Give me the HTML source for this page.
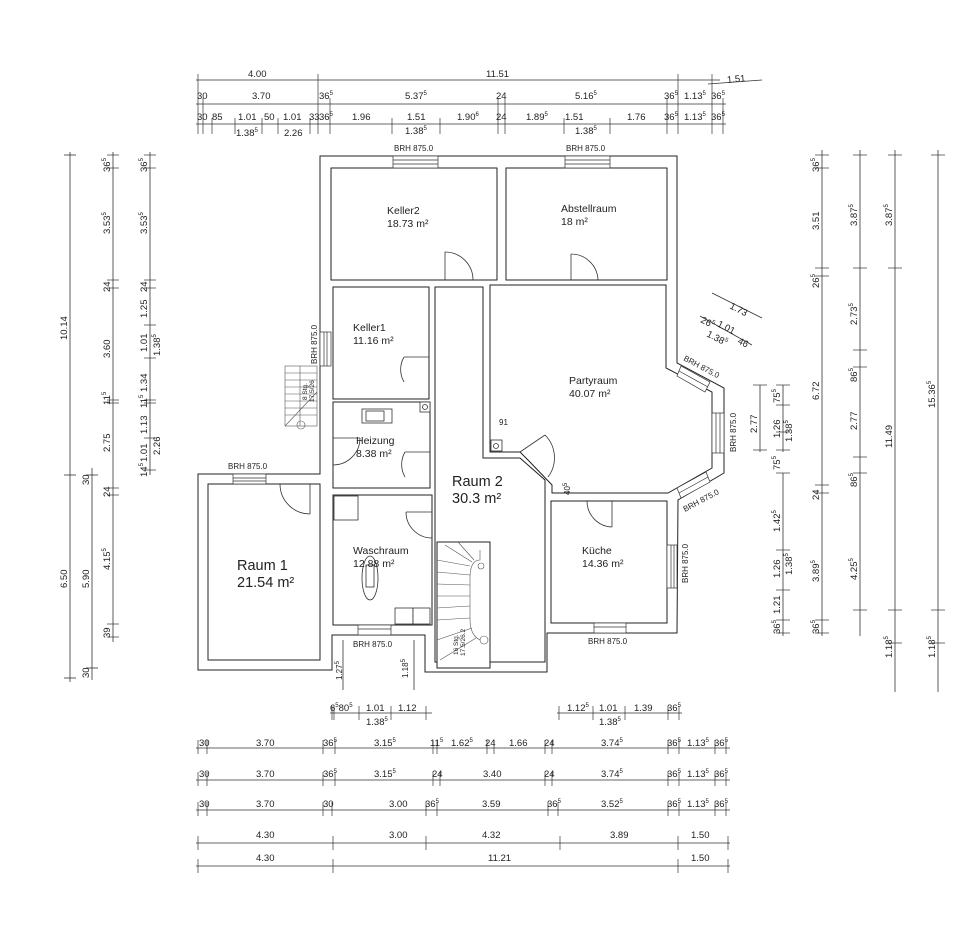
<!DOCTYPE html>
<html><head><meta charset="utf-8"><style>
html,body{margin:0;padding:0;background:#fff;}
svg{display:block;}
text{font-family:"Liberation Sans",sans-serif;fill:#222;}
.d{font-size:9.5px;}
.s{font-size:6px;}
</style></head><body>
<svg width="960" height="925" viewBox="0 0 960 925" xmlns="http://www.w3.org/2000/svg">
<rect width="960" height="925" fill="#fff"/>
<g stroke="#333" stroke-width="0.8" fill="none">
<!-- top dim lines -->
<line x1="196" y1="80" x2="720" y2="80"/>
<line x1="708" y1="84" x2="762" y2="80"/>
<line x1="196" y1="104" x2="726" y2="104"/>
<line x1="196" y1="124" x2="726" y2="124"/>
<g stroke-width="0.7">
<line x1="198" y1="74" x2="198" y2="134"/><line x1="203" y1="98" x2="203" y2="134"/>
<line x1="318" y1="74" x2="318" y2="134"/><line x1="330" y1="98" x2="330" y2="134"/>
<line x1="498" y1="98" x2="498" y2="134"/><line x1="505" y1="98" x2="505" y2="134"/>
<line x1="667" y1="98" x2="667" y2="134"/><line x1="678" y1="74" x2="678" y2="134"/>
<line x1="712" y1="74" x2="712" y2="134"/><line x1="723" y1="98" x2="723" y2="134"/>
<line x1="212" y1="118" x2="212" y2="134"/><line x1="235" y1="118" x2="235" y2="134"/>
<line x1="262" y1="118" x2="262" y2="134"/><line x1="278" y1="118" x2="278" y2="134"/>
<line x1="310" y1="118" x2="310" y2="134"/><line x1="392" y1="118" x2="392" y2="134"/>
<line x1="440" y1="118" x2="440" y2="134"/><line x1="564" y1="118" x2="564" y2="134"/>
<line x1="610" y1="118" x2="610" y2="134"/>
</g>
<!-- left dims -->
<line x1="70" y1="152" x2="70" y2="682"/>
<line x1="64" y1="475" x2="76" y2="475"/><line x1="64" y1="155" x2="76" y2="155"/><line x1="64" y1="678" x2="76" y2="678"/>
<line x1="92" y1="468" x2="92" y2="680"/>
<line x1="86" y1="475" x2="98" y2="475"/><line x1="86" y1="668" x2="98" y2="668"/>
<line x1="113" y1="152" x2="113" y2="642"/>
<g stroke-width="0.7">
<line x1="107" y1="155" x2="119" y2="155"/><line x1="107" y1="168" x2="119" y2="168"/>
<line x1="107" y1="280" x2="119" y2="280"/><line x1="107" y1="288" x2="119" y2="288"/>
<line x1="107" y1="400" x2="119" y2="400"/><line x1="107" y1="403" x2="119" y2="403"/>
<line x1="107" y1="488" x2="119" y2="488"/><line x1="107" y1="495" x2="119" y2="495"/>
<line x1="107" y1="624" x2="119" y2="624"/><line x1="107" y1="637" x2="119" y2="637"/>
</g>
<line x1="150" y1="152" x2="150" y2="475"/>
<g stroke-width="0.7">
<line x1="144" y1="155" x2="156" y2="155"/><line x1="144" y1="168" x2="156" y2="168"/>
<line x1="144" y1="280" x2="156" y2="280"/><line x1="144" y1="288" x2="156" y2="288"/>
<line x1="144" y1="325" x2="156" y2="325"/><line x1="144" y1="358" x2="156" y2="358"/>
<line x1="144" y1="400" x2="156" y2="400"/><line x1="144" y1="403" x2="156" y2="403"/>
<line x1="144" y1="438" x2="156" y2="438"/><line x1="144" y1="470" x2="156" y2="470"/>
</g>
<!-- right dims -->
<line x1="822" y1="150" x2="822" y2="636"/>
<line x1="860" y1="150" x2="860" y2="636"/>
<line x1="895" y1="150" x2="895" y2="692"/>
<line x1="938" y1="150" x2="938" y2="692"/>
<line x1="760" y1="385" x2="760" y2="452"/>
<line x1="783" y1="385" x2="783" y2="452"/>
<line x1="783" y1="473" x2="783" y2="636"/>
<g stroke-width="0.7">
<line x1="815" y1="155" x2="829" y2="155"/><line x1="815" y1="168" x2="829" y2="168"/><line x1="815" y1="268" x2="829" y2="268"/><line x1="815" y1="276" x2="829" y2="276"/><line x1="815" y1="485" x2="829" y2="485"/><line x1="815" y1="493" x2="829" y2="493"/><line x1="815" y1="620" x2="829" y2="620"/><line x1="815" y1="633" x2="829" y2="633"/>
<line x1="853" y1="155" x2="867" y2="155"/><line x1="853" y1="268" x2="867" y2="268"/><line x1="853" y1="350" x2="867" y2="350"/><line x1="853" y1="367" x2="867" y2="367"/><line x1="853" y1="457" x2="867" y2="457"/><line x1="853" y1="473" x2="867" y2="473"/><line x1="853" y1="610" x2="867" y2="610"/>
<line x1="888" y1="155" x2="902" y2="155"/><line x1="888" y1="268" x2="902" y2="268"/><line x1="888" y1="610" x2="902" y2="610"/><line x1="888" y1="643" x2="902" y2="643"/>
<line x1="931" y1="155" x2="945" y2="155"/><line x1="931" y1="610" x2="945" y2="610"/><line x1="931" y1="643" x2="945" y2="643"/>
<line x1="753" y1="385" x2="767" y2="385"/><line x1="753" y1="450" x2="767" y2="450"/>
<line x1="776" y1="385" x2="790" y2="385"/><line x1="776" y1="405" x2="790" y2="405"/><line x1="776" y1="432" x2="790" y2="432"/><line x1="776" y1="450" x2="790" y2="450"/>
<line x1="776" y1="473" x2="790" y2="473"/><line x1="776" y1="550" x2="790" y2="550"/><line x1="776" y1="590" x2="790" y2="590"/><line x1="776" y1="620" x2="790" y2="620"/><line x1="776" y1="633" x2="790" y2="633"/>
</g>
<!-- diagonal dims -->
<line x1="712" y1="293" x2="762" y2="318"/>
<line x1="700" y1="316" x2="752" y2="345"/>
<!-- bottom dims -->
<line x1="330" y1="713" x2="432" y2="713"/>
<line x1="557" y1="713" x2="682" y2="713"/>
<line x1="196" y1="748" x2="730" y2="748"/>
<line x1="196" y1="780" x2="730" y2="780"/>
<line x1="196" y1="810" x2="730" y2="810"/>
<line x1="196" y1="843" x2="730" y2="843"/>
<line x1="196" y1="866" x2="730" y2="866"/>
<g stroke-width="0.7">
<line x1="198" y1="740" x2="198" y2="754"/><line x1="207" y1="740" x2="207" y2="754"/><line x1="323" y1="740" x2="323" y2="754"/><line x1="335" y1="740" x2="335" y2="754"/><line x1="433" y1="740" x2="433" y2="754"/><line x1="437" y1="740" x2="437" y2="754"/><line x1="487" y1="740" x2="487" y2="754"/><line x1="494" y1="740" x2="494" y2="754"/><line x1="545" y1="740" x2="545" y2="754"/><line x1="552" y1="740" x2="552" y2="754"/><line x1="668" y1="740" x2="668" y2="754"/><line x1="679" y1="740" x2="679" y2="754"/><line x1="715" y1="740" x2="715" y2="754"/><line x1="726" y1="740" x2="726" y2="754"/>
<line x1="198" y1="772" x2="198" y2="786"/><line x1="207" y1="772" x2="207" y2="786"/><line x1="323" y1="772" x2="323" y2="786"/><line x1="335" y1="772" x2="335" y2="786"/><line x1="433" y1="772" x2="433" y2="786"/><line x1="440" y1="772" x2="440" y2="786"/><line x1="545" y1="772" x2="545" y2="786"/><line x1="552" y1="772" x2="552" y2="786"/><line x1="668" y1="772" x2="668" y2="786"/><line x1="679" y1="772" x2="679" y2="786"/><line x1="715" y1="772" x2="715" y2="786"/><line x1="726" y1="772" x2="726" y2="786"/>
<line x1="198" y1="802" x2="198" y2="816"/><line x1="207" y1="802" x2="207" y2="816"/><line x1="323" y1="802" x2="323" y2="816"/><line x1="332" y1="802" x2="332" y2="816"/><line x1="426" y1="802" x2="426" y2="816"/><line x1="437" y1="802" x2="437" y2="816"/><line x1="548" y1="802" x2="548" y2="816"/><line x1="558" y1="802" x2="558" y2="816"/><line x1="668" y1="802" x2="668" y2="816"/><line x1="679" y1="802" x2="679" y2="816"/><line x1="715" y1="802" x2="715" y2="816"/><line x1="726" y1="802" x2="726" y2="816"/>
<line x1="198" y1="836" x2="198" y2="850"/><line x1="333" y1="836" x2="333" y2="850"/><line x1="426" y1="836" x2="426" y2="850"/><line x1="560" y1="836" x2="560" y2="850"/><line x1="678" y1="836" x2="678" y2="850"/><line x1="728" y1="836" x2="728" y2="850"/>
<line x1="198" y1="859" x2="198" y2="873"/><line x1="333" y1="859" x2="333" y2="873"/><line x1="678" y1="859" x2="678" y2="873"/><line x1="728" y1="859" x2="728" y2="873"/>
<line x1="332" y1="706" x2="332" y2="720"/><line x1="334" y1="706" x2="334" y2="720"/><line x1="359" y1="706" x2="359" y2="720"/><line x1="391" y1="706" x2="391" y2="720"/><line x1="426" y1="706" x2="426" y2="720"/>
<line x1="559" y1="706" x2="559" y2="720"/><line x1="593" y1="706" x2="593" y2="720"/><line x1="625" y1="706" x2="625" y2="720"/><line x1="668" y1="706" x2="668" y2="720"/><line x1="679" y1="706" x2="679" y2="720"/>
</g>
<line x1="343" y1="640" x2="343" y2="690"/><line x1="414" y1="640" x2="414" y2="690"/>
</g>

<!-- PLAN -->
<g stroke="#222" stroke-width="1" fill="#fff">
<polygon points="320,156 677,156 677,363 724,388 724,473 678,500 677,633 547,633 547,672 425,672 425,635 332,635 332,670 198,670 198,474 320,474"/>
<rect x="331" y="168" width="166" height="112"/>
<rect x="506" y="168" width="161" height="112"/>
<rect x="333" y="287" width="96" height="112"/>
<rect x="333" y="402" width="97" height="86"/>
<rect x="333" y="495" width="99" height="130"/>
<rect x="208" y="484" width="112" height="176"/>
<polygon points="435,287 483,287 483,458 520,458 545,480 545,662 435,662"/>
<polygon points="490,285 666,285 666,368 712,392 712,468 668,493 552,493 552,485 528,460 520,452 490,452"/>
<rect x="551" y="501" width="116" height="122"/>
<rect x="437" y="542" width="53" height="126"/>
</g>
<!-- windows -->
<g stroke="#333" stroke-width="0.7" fill="#fff">
<rect x="393" y="156" width="45" height="12"/><line x1="393" y1="160" x2="438" y2="160"/><line x1="393" y1="164" x2="438" y2="164"/>
<rect x="565" y="156" width="45" height="12"/><line x1="565" y1="160" x2="610" y2="160"/><line x1="565" y1="164" x2="610" y2="164"/>
<rect x="320" y="332" width="11" height="34"/><line x1="324" y1="332" x2="324" y2="366"/><line x1="327" y1="332" x2="327" y2="366"/>
<rect x="233" y="474" width="33" height="10"/><line x1="233" y1="478" x2="266" y2="478"/><line x1="233" y1="481" x2="266" y2="481"/>
<rect x="358" y="625" width="33" height="10"/><line x1="358" y1="629" x2="391" y2="629"/>
<rect x="594" y="623" width="32" height="10"/><line x1="594" y1="627" x2="626" y2="627"/>
<rect x="667" y="545" width="10" height="43"/><line x1="671" y1="545" x2="671" y2="588"/><line x1="674" y1="545" x2="674" y2="588"/>
<rect x="712" y="413" width="12" height="40"/><line x1="716" y1="413" x2="716" y2="453"/><line x1="720" y1="413" x2="720" y2="453"/>
<polygon points="681,366 710,382 705,392 677,376"/><line x1="679" y1="371" x2="708" y2="387"/>
<polygon points="677,488 706,472 710,482 681,498"/><line x1="679" y1="493" x2="708" y2="477"/>
</g>
<!-- doors -->
<g stroke="#333" stroke-width="0.8" fill="none">
<line x1="445" y1="280" x2="445" y2="252"/><path d="M445,252 A28,28 0 0 1 473,280"/>
<line x1="571" y1="280" x2="571" y2="254"/><path d="M571,254 A27,27 0 0 1 598,280"/>
<line x1="429" y1="357" x2="404" y2="357"/><path d="M404,357 A25,25 0 0 0 404,382"/>
<line x1="430" y1="452" x2="405" y2="452"/><path d="M405,452 A25,25 0 0 0 405,477"/>
<line x1="333" y1="438" x2="360" y2="438"/><path d="M360,438 A27,27 0 0 1 333,465"/>
<line x1="432" y1="512" x2="406" y2="512"/><path d="M406,512 A26,26 0 0 0 432,538"/>
<line x1="310" y1="484" x2="310" y2="514"/><path d="M280,484 A30,30 0 0 0 310,514"/>
<line x1="612" y1="501" x2="612" y2="527"/><path d="M587,501 A26,26 0 0 0 612,527"/>
<line x1="520" y1="452" x2="545" y2="435"/><path d="M545,435 A32,32 0 0 1 548,477"/>
</g>
<!-- fixtures -->
<g stroke="#333" stroke-width="0.8" fill="#fff">
<rect x="362" y="409" width="30" height="14"/><rect x="366" y="411" width="18" height="10"/>
<rect x="420" y="402" width="10" height="10"/><circle cx="425" cy="407" r="2.5"/>
<rect x="491" y="440" width="11" height="11"/><circle cx="496" cy="446" r="2.5"/>
<rect x="334" y="496" width="24" height="24"/>
<rect x="395" y="608" width="18" height="16"/><rect x="413" y="608" width="17" height="16"/>
<ellipse cx="370" cy="578" rx="8" ry="22"/><rect x="366" y="565" width="8" height="22"/>
</g>
<!-- outside stair -->
<g stroke="#555" stroke-width="0.6" fill="none">
<rect x="285" y="366" width="32" height="60"/>
<line x1="285" y1="373" x2="317" y2="373"/><line x1="285" y1="380" x2="317" y2="380"/><line x1="285" y1="387" x2="317" y2="387"/><line x1="285" y1="394" x2="317" y2="394"/><line x1="285" y1="401" x2="317" y2="401"/><line x1="285" y1="408" x2="317" y2="408"/><line x1="285" y1="415" x2="317" y2="415"/>
<line x1="300" y1="366" x2="300" y2="426"/><circle cx="301" cy="425" r="4"/><line x1="285" y1="426" x2="317" y2="392"/>
</g>
<!-- spiral stair -->
<g stroke="#555" stroke-width="0.6" fill="none">
<path d="M480,550 L480,560 Q470,560 470,578 L470,620 Q470,635 480,640"/>
<line x1="437" y1="560" x2="470" y2="566"/><line x1="437" y1="572" x2="470" y2="575"/><line x1="437" y1="584" x2="470" y2="585"/><line x1="437" y1="596" x2="470" y2="596"/><line x1="437" y1="608" x2="470" y2="606"/><line x1="437" y1="620" x2="470" y2="618"/><line x1="445" y1="545" x2="472" y2="562"/><line x1="458" y1="542" x2="474" y2="560"/><line x1="437" y1="640" x2="472" y2="628"/><line x1="440" y1="660" x2="476" y2="638"/>
<circle cx="484" cy="640" r="4"/><circle cx="481" cy="566" r="3"/>
</g>

<!-- labels -->
<g font-size="10.5">
<text x="387" y="214">Keller2</text><text x="387" y="227">18.73 m²</text>
<text x="561" y="212">Abstellraum</text><text x="561" y="225">18 m²</text>
<text x="353" y="331">Keller1</text><text x="353" y="344">11.16 m²</text>
<text x="356" y="444">Heizung</text><text x="356" y="457">8.38 m²</text>
<text x="353" y="554">Waschraum</text><text x="353" y="567">12.88 m²</text>
<text x="569" y="384">Partyraum</text><text x="569" y="397">40.07 m²</text>
<text x="582" y="554">Küche</text><text x="582" y="567">14.36 m²</text>
</g>
<g font-size="14.5">
<text x="237" y="570">Raum 1</text><text x="237" y="587">21.54 m²</text>
<text x="452" y="486">Raum 2</text><text x="452" y="503">30.3 m²</text>
</g>
<g font-size="8">
<text x="394" y="151">BRH 875.0</text>
<text x="566" y="151">BRH 875.0</text>
<text x="228" y="469">BRH 875.0</text>
<text x="353" y="647">BRH 875.0</text>
<text x="588" y="644">BRH 875.0</text>
<text transform="translate(317,364) rotate(-90)">BRH 875.0</text>
<text transform="translate(688,583) rotate(-90)">BRH 875.0</text>
<text transform="translate(736,452) rotate(-90)">BRH 875.0</text>
<text transform="translate(683,360) rotate(28)">BRH 875.0</text>
<text transform="translate(685,512) rotate(-28)">BRH 875.0</text>
<text x="499" y="425">91</text>
<text transform="translate(570,495) rotate(-90)">40<tspan class="s" dy="-3">5</tspan></text>
<text transform="translate(307,400) rotate(-90)" font-size="6.5">8 Stg.</text>
<text transform="translate(314,402) rotate(-90)" font-size="6.5">17.5/26</text>
<text transform="translate(458,655) rotate(-90)" font-size="6.5">16 Stg.</text>
<text transform="translate(465,656) rotate(-90)" font-size="6.5">17.5/26.2</text>
<text transform="translate(342,680) rotate(-90)">1.27<tspan class="s" dy="-3">5</tspan></text>
<text transform="translate(408,678) rotate(-90)">1.18<tspan class="s" dy="-3">5</tspan></text>
</g>

<!-- top dim text -->
<g class="d">
<text x="248" y="77">4.00</text><text x="486" y="77">11.51</text><text x="727" y="82" transform="rotate(-5 737 80)">1.51</text>
<text x="197" y="99">30</text><text x="252" y="99">3.70</text><text x="319" y="99">36<tspan class="s" dy="-4">5</tspan></text><text x="405" y="99">5.37<tspan class="s" dy="-4">5</tspan></text><text x="496" y="99">24</text><text x="575" y="99">5.16<tspan class="s" dy="-4">5</tspan></text><text x="664" y="99">36<tspan class="s" dy="-4">5</tspan></text><text x="684" y="99">1.13<tspan class="s" dy="-4">5</tspan></text><text x="711" y="99">36<tspan class="s" dy="-4">5</tspan></text>
<text x="197" y="120">30</text><text x="212" y="120">85</text><text x="238" y="120">1.01</text><text x="264" y="120">50</text><text x="283" y="120">1.01</text><text x="309" y="120">33</text><text x="319" y="120">36<tspan class="s" dy="-4">5</tspan></text><text x="352" y="120">1.96</text><text x="407" y="120">1.51</text><text x="457" y="120">1.90<tspan class="s" dy="-4">6</tspan></text><text x="496" y="120">24</text><text x="526" y="120">1.89<tspan class="s" dy="-4">5</tspan></text><text x="565" y="120">1.51</text><text x="627" y="120">1.76</text><text x="664" y="120">36<tspan class="s" dy="-4">5</tspan></text><text x="684" y="120">1.13<tspan class="s" dy="-4">5</tspan></text><text x="711" y="120">36<tspan class="s" dy="-4">5</tspan></text>
<text x="236" y="136">1.38<tspan class="s" dy="-4">5</tspan></text><text x="284" y="136">2.26</text><text x="405" y="134">1.38<tspan class="s" dy="-4">5</tspan></text><text x="575" y="134">1.38<tspan class="s" dy="-4">5</tspan></text>
</g>
<!-- left dim text (rotated) -->
<g class="d">
<text transform="translate(67,340) rotate(-90)">10.14</text>
<text transform="translate(67,588) rotate(-90)">6.50</text>
<text transform="translate(89,588) rotate(-90)">5.90</text>
<text transform="translate(89,485) rotate(-90)">30</text>
<text transform="translate(89,678) rotate(-90)">30</text>
<g>
<text transform="translate(110,172) rotate(-90)">36<tspan class="s" dy="-4">5</tspan></text>
<text transform="translate(110,234) rotate(-90)">3.53<tspan class="s" dy="-4">5</tspan></text>
<text transform="translate(110,292) rotate(-90)">24</text>
<text transform="translate(110,358) rotate(-90)">3.60</text>
<text transform="translate(110,405) rotate(-90)">11<tspan class="s" dy="-4">5</tspan></text>
<text transform="translate(110,452) rotate(-90)">2.75</text>
<text transform="translate(110,497) rotate(-90)">24</text>
<text transform="translate(110,570) rotate(-90)">4.15<tspan class="s" dy="-4">5</tspan></text>
<text transform="translate(110,638) rotate(-90)">39</text>
</g>
<g>
<text transform="translate(147,172) rotate(-90)">36<tspan class="s" dy="-4">5</tspan></text>
<text transform="translate(147,234) rotate(-90)">3.53<tspan class="s" dy="-4">5</tspan></text>
<text transform="translate(147,292) rotate(-90)">24</text>
<text transform="translate(147,318) rotate(-90)">1.25</text>
<text transform="translate(147,352) rotate(-90)">1.01</text>
<text transform="translate(160,356) rotate(-90)">1.38<tspan class="s" dy="-4">5</tspan></text>
<text transform="translate(147,392) rotate(-90)">1.34</text>
<text transform="translate(147,408) rotate(-90)">11<tspan class="s" dy="-4">5</tspan></text>
<text transform="translate(147,434) rotate(-90)">1.13</text>
<text transform="translate(147,462) rotate(-90)">1.01</text>
<text transform="translate(147,477) rotate(-90)">14<tspan class="s" dy="-4">5</tspan></text>
<text transform="translate(160,455) rotate(-90)">2.26</text>
</g>
</g>
<!-- right dim text -->
<g class="d">
<text transform="translate(819,172) rotate(-90)">36<tspan class="s" dy="-4">5</tspan></text>
<text transform="translate(819,230) rotate(-90)">3.51</text>
<text transform="translate(819,288) rotate(-90)">26<tspan class="s" dy="-4">5</tspan></text>
<text transform="translate(819,400) rotate(-90)">6.72</text>
<text transform="translate(819,500) rotate(-90)">24</text>
<text transform="translate(819,582) rotate(-90)">3.89<tspan class="s" dy="-4">5</tspan></text>
<text transform="translate(819,634) rotate(-90)">36<tspan class="s" dy="-4">5</tspan></text>
<text transform="translate(857,226) rotate(-90)">3.87<tspan class="s" dy="-4">5</tspan></text>
<text transform="translate(857,325) rotate(-90)">2.73<tspan class="s" dy="-4">5</tspan></text>
<text transform="translate(857,382) rotate(-90)">86<tspan class="s" dy="-4">5</tspan></text>
<text transform="translate(857,430) rotate(-90)">2.77</text>
<text transform="translate(857,487) rotate(-90)">86<tspan class="s" dy="-4">5</tspan></text>
<text transform="translate(857,580) rotate(-90)">4.25<tspan class="s" dy="-4">5</tspan></text>
<text transform="translate(892,226) rotate(-90)">3.87<tspan class="s" dy="-4">5</tspan></text>
<text transform="translate(892,448) rotate(-90)">11.49</text>
<text transform="translate(892,658) rotate(-90)">1.18<tspan class="s" dy="-4">5</tspan></text>
<text transform="translate(935,408) rotate(-90)">15.36<tspan class="s" dy="-4">5</tspan></text>
<text transform="translate(935,658) rotate(-90)">1.18<tspan class="s" dy="-4">5</tspan></text>
<text transform="translate(757,433) rotate(-90)">2.77</text>
<text transform="translate(780,403) rotate(-90)">75<tspan class="s" dy="-4">5</tspan></text>
<text transform="translate(780,438) rotate(-90)">1.26</text>
<text transform="translate(792,442) rotate(-90)">1.38<tspan class="s" dy="-4">5</tspan></text>
<text transform="translate(780,470) rotate(-90)">75<tspan class="s" dy="-4">5</tspan></text>
<text transform="translate(780,532) rotate(-90)">1.42<tspan class="s" dy="-4">5</tspan></text>
<text transform="translate(780,578) rotate(-90)">1.26</text>
<text transform="translate(792,575) rotate(-90)">1.38<tspan class="s" dy="-4">5</tspan></text>
<text transform="translate(780,614) rotate(-90)">1.21</text>
<text transform="translate(780,634) rotate(-90)">36<tspan class="s" dy="-4">5</tspan></text>
<text transform="translate(729,308) rotate(27)">1.73</text>
<text transform="translate(700,322) rotate(27)">26<tspan class="s" dy="-4">5</tspan> 1.01</text>
<text transform="translate(706,336) rotate(27)">1.38<tspan class="s" dy="-4">5</tspan></text>
<text transform="translate(737,343) rotate(27)">46</text>
</g>
<!-- bottom dim text -->
<g class="d">
<text x="330" y="711">6<tspan class="s" dy="-4">5</tspan><tspan dy="4">80</tspan><tspan class="s" dy="-4">5</tspan></text><text x="366" y="711">1.01</text><text x="398" y="711">1.12</text><text x="366" y="725">1.38<tspan class="s" dy="-4">5</tspan></text>
<text x="567" y="711">1.12<tspan class="s" dy="-4">5</tspan></text><text x="599" y="711">1.01</text><text x="634" y="711">1.39</text><text x="667" y="711">36<tspan class="s" dy="-4">5</tspan></text><text x="599" y="725">1.38<tspan class="s" dy="-4">5</tspan></text>
<text x="199" y="746">30</text><text x="256" y="746">3.70</text><text x="323" y="746">36<tspan class="s" dy="-4">5</tspan></text><text x="374" y="746">3.15<tspan class="s" dy="-4">5</tspan></text><text x="430" y="746">11<tspan class="s" dy="-4">5</tspan></text><text x="451" y="746">1.62<tspan class="s" dy="-4">5</tspan></text><text x="485" y="746">24</text><text x="509" y="746">1.66</text><text x="544" y="746">24</text><text x="601" y="746">3.74<tspan class="s" dy="-4">5</tspan></text><text x="667" y="746">36<tspan class="s" dy="-4">5</tspan></text><text x="687" y="746">1.13<tspan class="s" dy="-4">5</tspan></text><text x="714" y="746">36<tspan class="s" dy="-4">5</tspan></text>
<text x="199" y="777">30</text><text x="256" y="777">3.70</text><text x="323" y="777">36<tspan class="s" dy="-4">5</tspan></text><text x="374" y="777">3.15<tspan class="s" dy="-4">5</tspan></text><text x="432" y="777">24</text><text x="483" y="777">3.40</text><text x="544" y="777">24</text><text x="601" y="777">3.74<tspan class="s" dy="-4">5</tspan></text><text x="667" y="777">36<tspan class="s" dy="-4">5</tspan></text><text x="687" y="777">1.13<tspan class="s" dy="-4">5</tspan></text><text x="714" y="777">36<tspan class="s" dy="-4">5</tspan></text>
<text x="199" y="807">30</text><text x="256" y="807">3.70</text><text x="323" y="807">30</text><text x="389" y="807">3.00</text><text x="425" y="807">36<tspan class="s" dy="-4">5</tspan></text><text x="482" y="807">3.59</text><text x="547" y="807">36<tspan class="s" dy="-4">5</tspan></text><text x="601" y="807">3.52<tspan class="s" dy="-4">5</tspan></text><text x="667" y="807">36<tspan class="s" dy="-4">5</tspan></text><text x="687" y="807">1.13<tspan class="s" dy="-4">5</tspan></text><text x="714" y="807">36<tspan class="s" dy="-4">5</tspan></text>
<text x="256" y="838">4.30</text><text x="389" y="838">3.00</text><text x="482" y="838">4.32</text><text x="610" y="838">3.89</text><text x="691" y="838">1.50</text>
<text x="256" y="861">4.30</text><text x="488" y="861">11.21</text><text x="691" y="861">1.50</text>
</g>
</svg>
</body></html>
